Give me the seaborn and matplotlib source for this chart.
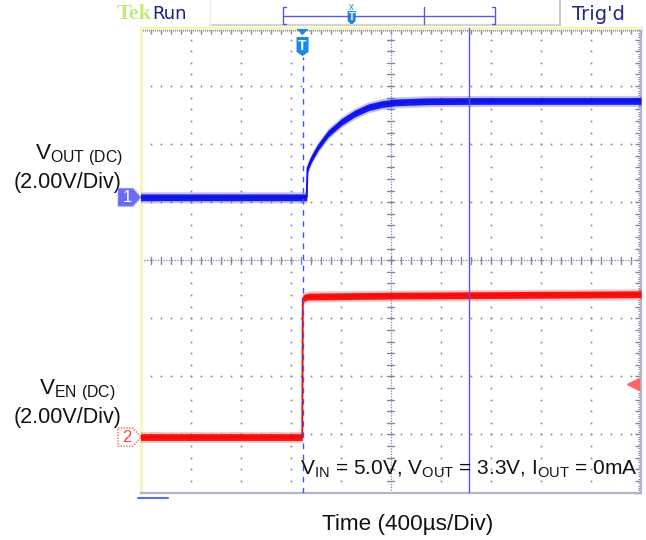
import numpy as np
import pandas as pd
import matplotlib
matplotlib.use("Agg")
import matplotlib.pyplot as plt
from matplotlib.patches import Polygon
import matplotlib.transforms as mtrans
import seaborn as sns

# ---------------- data (read from the scope shot) ----------------
time_per_div_us = 400.0
volts_per_div = 2.0
ch1_position_div = 5.084    # ground level of VOUT trace (divisions from bottom)
ch2_position_div = 0.955    # ground level of VEN trace

vout_time_us = [0, 1328, 1335, 1368, 1421, 1501, 1608, 1714, 1821, 1928, 2034, 2300, 2727, 4000]
vout_volts = [0.0, 0.0, 1.00, 1.34, 1.74, 2.20, 2.60, 2.89, 3.10, 3.21, 3.27, 3.31, 3.32, 3.32]

ven_time_us = [0, 1293, 1297, 1340, 2000, 4000]
ven_volts = [0.0, 0.0, 4.78, 4.84, 4.87, 4.92]

trigger_time_us = 1295
cursor_time_us = 2625
trigger_level_v = 1.82

# ---------------- style ----------------
sns.set_style("white")
plt.rcParams['font.family'] = ['Liberation Sans', 'DejaVu Sans']
plt.rcParams['mathtext.fontset'] = 'custom'
plt.rcParams['mathtext.rm'] = 'Liberation Sans'

W, H = 646, 540
fig = plt.figure(figsize=(W / 100, H / 100), dpi=100)
fig.patch.set_facecolor('white')

def fx(x):
    return x / W

def fy(y):
    return 1 - y / H

L, R, T, B = 140.5, 641.0, 28.0, 492.5
ax = fig.add_axes([fx(L), fy(B), (R - L) / W, (B - T) / H])
ax.set_xlim(0, 10)
ax.set_ylim(0, 8)
px_y = 8 / (B - T)

# ---------------- graticule ----------------
gcol = '#8383a8'
for i in range(1, 10):
    if i == 5:
        continue
    ax.plot(np.full(41, i), np.arange(41) / 5, ls='none', marker='s', ms=1.2,
            mec='none', mfc=gcol, zorder=1)
for j in range(1, 8):
    if j == 4:
        continue
    ax.plot(np.arange(51) / 5, np.full(51, j), ls='none', marker='s', ms=1.2,
            mec='none', mfc=gcol, zorder=1)
# centre lines
ax.axhline(4, color=gcol, lw=0.9, ls=(0, (1, 1.2)), zorder=1)
ax.axvline(5, color=gcol, lw=0.9, ls=(0, (1, 1.2)), zorder=1)
dx = 3.5 / 50.05
dy = 3.5 / 58.06
for k in range(51):
    ax.plot([k / 5, k / 5], [4 - dy, 4 + dy], color=gcol, lw=1.0, zorder=1)
for k in range(41):
    ax.plot([5 - dx, 5 + dx], [k / 5, k / 5], color=gcol, lw=1.0, zorder=1)

# frame ticks
ax.set_xticks(np.arange(0, 10.01, 0.2))
ax.set_yticks(np.arange(0, 8.01, 0.2))
ax.set_xticks(np.arange(0, 10.01, 0.04), minor=True)
ax.set_yticks(np.arange(0, 8.01, 0.04), minor=True)
ax.tick_params(which='major', direction='in', length=4, width=1, color=gcol,
               top=True, right=True, labelbottom=False, labelleft=False)
ax.tick_params(which='minor', direction='in', length=2, width=0.8, color=gcol,
               top=True, right=True)
for s in ['left', 'top']:
    ax.spines[s].set_color('#f5f5bd')
    ax.spines[s].set_linewidth(2.2)
for s in ['right', 'bottom']:
    ax.spines[s].set_color('#b4b4c8')
    ax.spines[s].set_linewidth(1.6)

# ---------------- traces ----------------
df = pd.concat([
    pd.DataFrame({'x': np.array(vout_time_us) / time_per_div_us,
                  'y': np.array(vout_volts) / volts_per_div + ch1_position_div,
                  'ch': 'VOUT'}),
    pd.DataFrame({'x': np.array(ven_time_us) / time_per_div_us,
                  'y': np.array(ven_volts) / volts_per_div + ch2_position_div,
                  'ch': 'VEN'}),
], ignore_index=True)
pal = {'VOUT': '#0d12e8', 'VEN': '#f50a0a'}
# noise band (vertical thickness, like a persistence trace)
for ch, sub in df.groupby('ch'):
    ax.fill_between(sub['x'], sub['y'] - 5.5 * px_y, sub['y'] + 5.5 * px_y,
                    color=pal[ch], alpha=0.25, lw=0, zorder=3)
    ax.fill_between(sub['x'], sub['y'] - 3.4 * px_y, sub['y'] + 3.4 * px_y,
                    color=pal[ch], alpha=0.95, lw=0, zorder=4)
sns.lineplot(data=df, x='x', y='y', hue='ch', palette=pal, sort=False,
             estimator=None, units='ch', lw=1.4, legend=False, ax=ax, zorder=4)
ax.set_xlabel('')
ax.set_ylabel('')
ax.set_xlim(0, 10)
ax.set_ylim(0, 8)

# trigger dashed line and cursor
xt = trigger_time_us / time_per_div_us
ax.axvline(xt, ymin=0, ymax=(B - 57) / (B - T), color='#3a55ff', lw=1.0,
           ls=(0, (4, 4)), zorder=5)
ax.axvline(cursor_time_us / time_per_div_us, color='#5555e6', lw=1.0, zorder=5)

# trigger level marker (right)
ax.plot([9.84], [trigger_level_v / volts_per_div + ch2_position_div], marker='<',
        ms=8, color='#ff6464', clip_on=False, zorder=6)

# ---------------- channel markers ----------------
bt = mtrans.blended_transform_factory(fig.transFigure, ax.transData)
hy = 9 * px_y
for pos, fc, ec, tc, lab in [(ch1_position_div, '#6a6cf2', '#9a9cff', 'white', '1'),
                             (ch2_position_div, 'white', '#ff5a5a', '#ff4040', '2')]:
    poly = Polygon([(fx(118), pos + hy), (fx(133), pos + hy), (fx(141), pos),
                    (fx(133), pos - hy), (fx(118), pos - hy)], closed=True,
                   transform=bt, fc=fc, ec=ec, lw=1.0, ls=(0, (1, 1)), clip_on=False,
                   zorder=7)
    fig.add_artist(poly)
    fig.text(fx(127), pos, lab, transform=bt, ha='center', va='center', fontsize=12,
             color=tc, zorder=8)

# trigger position marker (top)
tx = L + xt * (R - L) / 10
fig.add_artist(Polygon([(fx(tx - 6), fy(29)), (fx(tx + 6), fy(29)), (fx(tx), fy(35))],
                       transform=fig.transFigure, fc='#1a8ae6', ec='none'))
fig.add_artist(Polygon([(fx(tx - 6), fy(37)), (fx(tx + 6), fy(37)), (fx(tx + 6), fy(52)),
                        (fx(tx), fy(56)), (fx(tx - 6), fy(52))],
                       transform=fig.transFigure, fc='#1a8ae6', ec='none'))
fig.text(fx(tx), fy(45.5), 'T', ha='center', va='center', fontsize=10, color='white',
         fontweight='bold')

# ---------------- top status bar ----------------
fig.add_artist(plt.Line2D([fx(210), fx(560)], [fy(24.5), fy(24.5)], color='#d4d4d4', lw=1.5))
fig.add_artist(plt.Line2D([fx(560), fx(560)], [fy(0), fy(24.5)], color='#c8c8c8', lw=1.5))
fig.add_artist(plt.Line2D([fx(210), fx(210)], [fy(0), fy(24.5)], color='#eeeeee', lw=1.0))
fig.text(fx(117), fy(14), 'Tek', fontsize=16, color='#c3ec7a', family='Liberation Serif',
         fontweight='bold', va='center', ha='left')
fig.text(fx(152), fy(14), 'Run', fontsize=13, color='#1c1c88', family='DejaVu Sans',
         va='center', ha='left')
fig.text(fx(572), fy(14), "Trig'd", fontsize=14, color='#24248c', family='DejaVu Sans',
         va='center', ha='left')
bc = '#5a5ac8'
bx0, bx1 = 283, 495
fig.add_artist(plt.Line2D([fx(bx0), fx(bx1)], [fy(15.5), fy(15.5)], color=bc, lw=1.0))
for xb, d in [(bx0, 1), (bx1, -1)]:
    fig.add_artist(plt.Line2D([fx(xb + 3 * d), fx(xb), fx(xb), fx(xb + 3 * d)],
                              [fy(7), fy(7), fy(24), fy(24)], color=bc, lw=1.0))
fig.add_artist(plt.Line2D([fx(424), fx(424)], [fy(7), fy(24)], color='#5a5ae6', lw=1.0))
sx = bx0 + (bx1 - bx0) * xt / 10
fig.add_artist(Polygon([(fx(sx - 4), fy(11)), (fx(sx + 4), fy(11)), (fx(sx + 4), fy(21)),
                        (fx(sx), fy(25)), (fx(sx - 4), fy(21))],
                       transform=fig.transFigure, fc='#1a8ae6', ec='none'))
fig.text(fx(sx), fy(16.5), 'T', ha='center', va='center', fontsize=7, color='white',
         fontweight='bold')
fig.text(fx(sx), fy(7), 'x', ha='center', va='center', fontsize=7, color='#1a8ae6')

# bottom-left short blue line
fig.add_artist(plt.Line2D([fx(138), fx(168)], [fy(497.5), fy(497.5)], color='#5a70e0', lw=1.5))

# ---------------- labels ----------------
fs = 16.2
fs2 = 15.5
fig.text(fx(35), fy(159), r'$\mathregular{V_{OUT\ (DC)}}$', fontsize=fs, ha='left',
         va='baseline', color='#111111')
fig.text(fx(14), fy(188), '(2.00V/Div)', fontsize=fs2, ha='left', va='baseline',
         color='#111111')
fig.text(fx(39), fy(394), r'$\mathregular{V_{EN\ (DC)}}$', fontsize=fs, ha='left',
         va='baseline', color='#111111')
fig.text(fx(14), fy(423), '(2.00V/Div)', fontsize=fs2, ha='left', va='baseline',
         color='#111111')
fig.text(fx(300), fy(475),
         r'$\mathregular{V_{IN}}$ = 5.0V, $\mathregular{V_{OUT}}$ = 3.3V, $\mathregular{I_{OUT}}$ = 0mA',
         fontsize=15, ha='left', va='baseline', color='#111111', zorder=10)
fig.text(fx(408), fy(530), 'Time (400µs/Div)', fontsize=fs, ha='center', va='baseline',
         color='#111111')

fig.savefig('out.png', dpi=100)
